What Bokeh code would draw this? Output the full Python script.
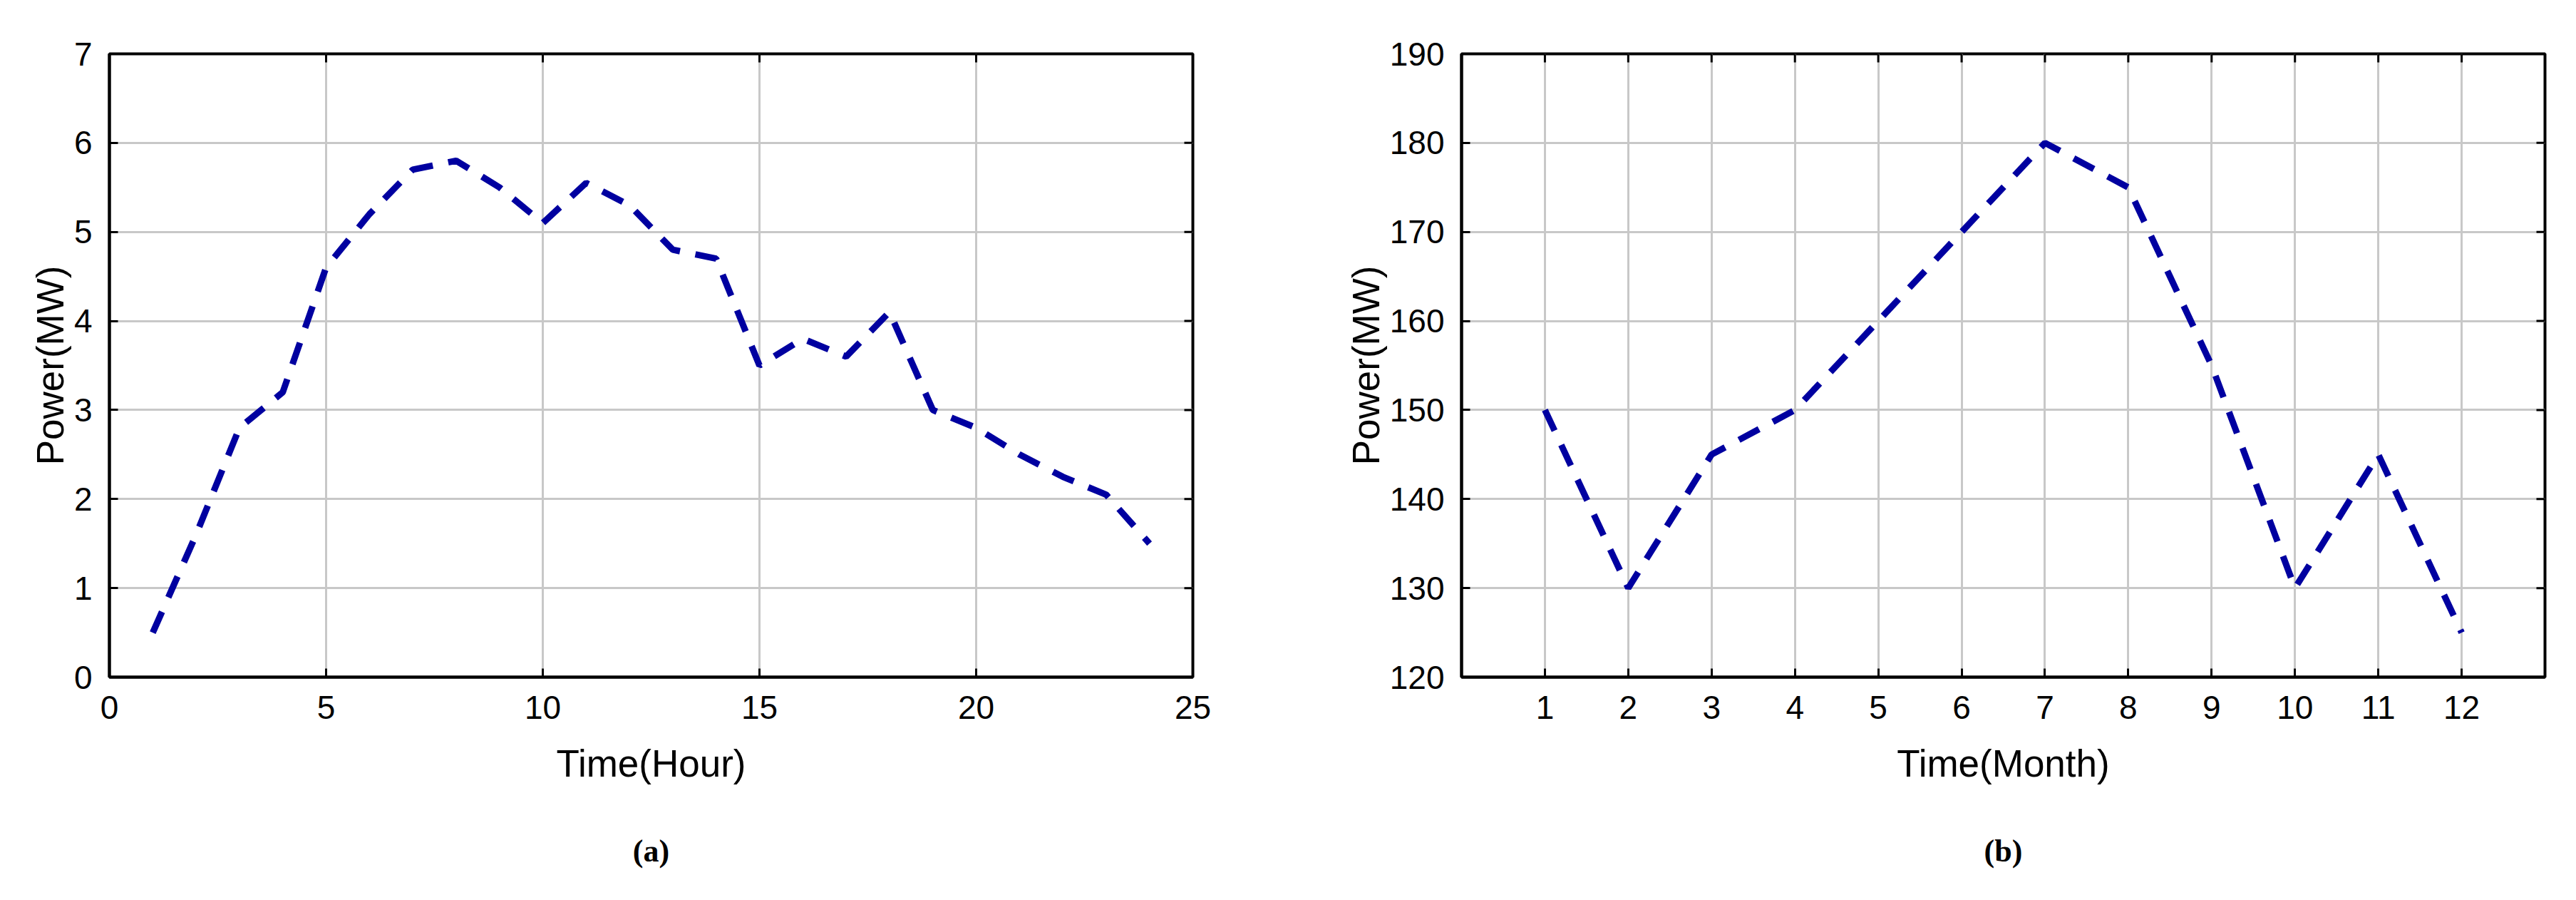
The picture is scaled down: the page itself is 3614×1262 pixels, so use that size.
import math
from bokeh.plotting import figure
from bokeh.models import FixedTicker, Range1d, LinearAxis
from bokeh.layouts import row
from bokeh.embed import file_html
from bokeh.resources import INLINE

# ---- data ----
hours = list(range(1, 25))
power_hour = [0.5, 1.6, 2.8, 3.2, 4.6, 5.2, 5.7, 5.8, 5.5, 5.1, 5.55, 5.3,
              4.8, 4.7, 3.5, 3.8, 3.6, 4.1, 3.0, 2.8, 2.5, 2.25, 2.05, 1.5]
hour_ticks = [0, 5, 10, 15, 20, 25]
hour_yticks = [0, 1, 2, 3, 4, 5, 6, 7]

months = list(range(1, 13))
power_month = [150, 130, 145, 150, 160, 170, 180, 175, 155, 130, 145, 125]
month_ticks = list(range(1, 13))
month_yticks = [120, 130, 140, 150, 160, 170, 180, 190]

LINE_COLOR = "#0000A0"
FONT = "Liberation Sans"
HEIGHT = 1246


def style_axis(ax, ticks):
    ax.ticker = FixedTicker(ticks=ticks)
    ax.minor_tick_line_color = None
    ax.major_tick_in = 12
    ax.major_tick_out = 0
    ax.major_tick_line_width = 3
    ax.major_tick_line_color = "black"
    ax.axis_line_width = 4
    ax.axis_line_color = "black"
    ax.major_label_text_font = FONT
    ax.major_label_text_color = "black"
    ax.major_label_text_font_size = "46px"
    ax.axis_label_text_font = FONT
    ax.axis_label_text_font_style = "normal"
    ax.axis_label_text_font_size = "53px"
    ax.axis_label_text_color = "black"


def make_fig(x, y, xr, yr, xticks, yticks, xlabel, ylabel, caption,
             width, bl, br, bt, bb):
    p = figure(width=width, height=HEIGHT, x_range=Range1d(*xr), y_range=Range1d(*yr),
               output_backend="svg", toolbar_location=None,
               min_border_left=bl, min_border_right=br,
               min_border_top=bt, min_border_bottom=bb)
    p.background_fill_color = "white"
    p.border_fill_color = "white"
    p.outline_line_color = "black"
    p.outline_line_width = 4

    style_axis(p.xaxis[0], xticks)
    style_axis(p.yaxis[0], yticks)
    p.xaxis.axis_label = xlabel
    p.yaxis.axis_label = ylabel
    p.xaxis.major_label_standoff = 26
    p.yaxis.major_label_standoff = 24
    p.xaxis.axis_label_standoff = 30
    p.yaxis.axis_label_standoff = 1

    p.xgrid.ticker = FixedTicker(ticks=xticks)
    p.ygrid.ticker = FixedTicker(ticks=yticks)
    for g in (p.xgrid, p.ygrid):
        g.grid_line_color = "#c8c8c8"
        g.grid_line_width = 3

    # inward tick marks on the right and top borders (box style)
    p.ray(x=[xr[1]] * len(yticks), y=yticks, length=12, length_units="screen",
          angle=math.pi, line_color="black", line_width=3)
    p.ray(x=xticks, y=[yr[1]] * len(xticks), length=12, length_units="screen",
          angle=-math.pi / 2, line_color="black", line_width=3)

    p.line(x, y, line_color=LINE_COLOR, line_width=9, line_dash="32 22")

    # panel caption as the label of a bare second x axis below
    cap = LinearAxis(ticker=FixedTicker(ticks=[]), axis_label=caption,
                     axis_line_color=None, major_tick_line_color=None,
                     minor_tick_line_color=None, major_tick_in=0, major_tick_out=0,
                     major_label_standoff=0, axis_label_standoff=66,
                     axis_label_text_font="Liberation Serif",
                     axis_label_text_font_style="bold",
                     axis_label_text_font_size="44px",
                     axis_label_text_color="black")
    p.add_layout(cap, "below")
    return p


p1 = make_fig(hours, power_hour, (0, 25), (0, 7), hour_ticks, hour_yticks,
              "Time(Hour)", "Power(MW)", "(a)",
              width=1850, bl=153, br=177, bt=71, bb=297)
p2 = make_fig(months, power_month, (0, 13), (120, 190), month_ticks, month_yticks,
              "Time(Month)", "Power(MW)", "(b)",
              width=1748, bl=200, br=28, bt=75, bb=294)

layout = row(p1, p2)
open("out.html", "w").write(file_html(layout, INLINE))
